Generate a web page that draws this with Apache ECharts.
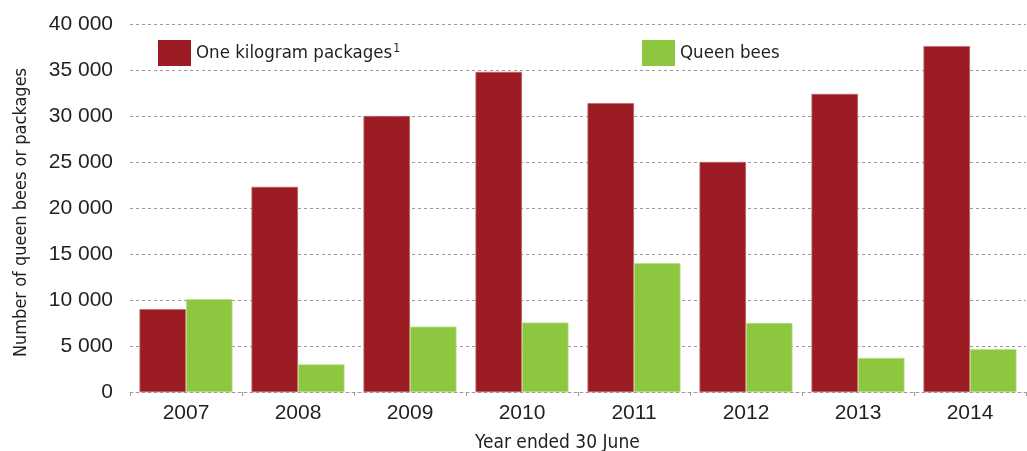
<!DOCTYPE html>
<html>
<head>
<meta charset="utf-8">
<script src="https://cdn.jsdelivr.net/npm/echarts@6/dist/echarts.min.js"></script>
<style>
html,body{margin:0;padding:0;background:#fff;}
#chart{width:1027px;height:451px;}
</style>
</head>
<body>
<div id="chart"></div>
<script>
var categories = ['2007','2008','2009','2010','2011','2012','2013','2014'];
var packages = [9000, 22300, 30000, 34800, 31400, 25000, 32400, 37600];
var queens = [10100, 3000, 7100, 7550, 14000, 7500, 3700, 4650];
var seriesNames = ['One kilogram packages', 'Queen bees'];
var yAxisTitle = 'Number of queen bees or packages';
var xAxisTitle = 'Year ended 30 June';

var textFont = '"DejaVu Sans Condensed", "Liberation Sans", sans-serif';
var numFont = '"Liberation Sans", Arial, sans-serif';
var ink = '#231f20';
var gridCol = '#9a9a9a';

var chart = echarts.init(document.getElementById('chart'));
chart.setOption({
  animation: false,
  backgroundColor: '#fff',
  title: {
    text: xAxisTitle,
    left: 470, top: 429,
    textStyle: { fontFamily: textFont, fontSize: 19, fontWeight: 'normal', color: ink }
  },
  legend: [{
    data: [seriesNames[0]],
    left: 158, top: 40, padding: 0,
    itemWidth: 33, itemHeight: 26,
    icon: 'rect',
    itemStyle: { borderWidth: 0 },
    formatter: function (n) { return '{a|' + n + '}{s|1}'; },
    textStyle: {
      color: ink,
      rich: {
        a: { fontFamily: textFont, fontSize: 18.5, color: ink },
        s: { fontFamily: textFont, fontSize: 12, color: ink, padding: [0, 0, 9, 1] }
      }
    }
  }, {
    data: [seriesNames[1]],
    left: 642, top: 40, padding: 0,
    itemWidth: 33, itemHeight: 26,
    icon: 'rect',
    itemStyle: { borderWidth: 0 },
    textStyle: { fontFamily: textFont, fontSize: 18.5, color: ink }
  }],
  grid: { left: 130, right: 1, top: 24, bottom: 59, containLabel: false },
  xAxis: {
    type: 'category',
    data: categories,
    axisLine: { show: true, lineStyle: { color: gridCol, type: [3, 3], width: 1 } },
    axisTick: { show: true, alignWithLabel: false, length: 4, lineStyle: { color: gridCol } },
    axisLabel: { margin: 11, fontFamily: numFont, fontSize: 21, color: ink }
  },
  yAxis: {
    type: 'value',
    min: 0, max: 40000, interval: 5000,
    name: yAxisTitle,
    nameLocation: 'middle',
    nameGap: 100,
    nameTextStyle: { fontFamily: textFont, fontSize: 18, color: ink, padding: [0, 9, 0, 0] },
    axisLine: { show: false },
    axisTick: { show: false },
    axisLabel: {
      margin: 17, fontFamily: numFont, fontSize: 21, color: ink,
      formatter: function (v) { return String(v).replace(/\B(?=(\d{3})+(?!\d))/g, ' '); }
    },
    splitLine: { show: true, lineStyle: { color: gridCol, type: [3, 3], width: 1 } }
  },
  series: [{
    name: seriesNames[0],
    type: 'bar',
    data: packages,
    barGap: '0%',
    barCategoryGap: '17%',
    itemStyle: { color: '#9b1c22', borderColor: '#c0666b', borderWidth: 0.7 }
  }, {
    name: seriesNames[1],
    type: 'bar',
    data: queens,
    barGap: '0%',
    barCategoryGap: '17%',
    itemStyle: { color: '#8dc63f', borderColor: '#b8de8a', borderWidth: 0.7 }
  }]
});
</script>
</body>
</html>
